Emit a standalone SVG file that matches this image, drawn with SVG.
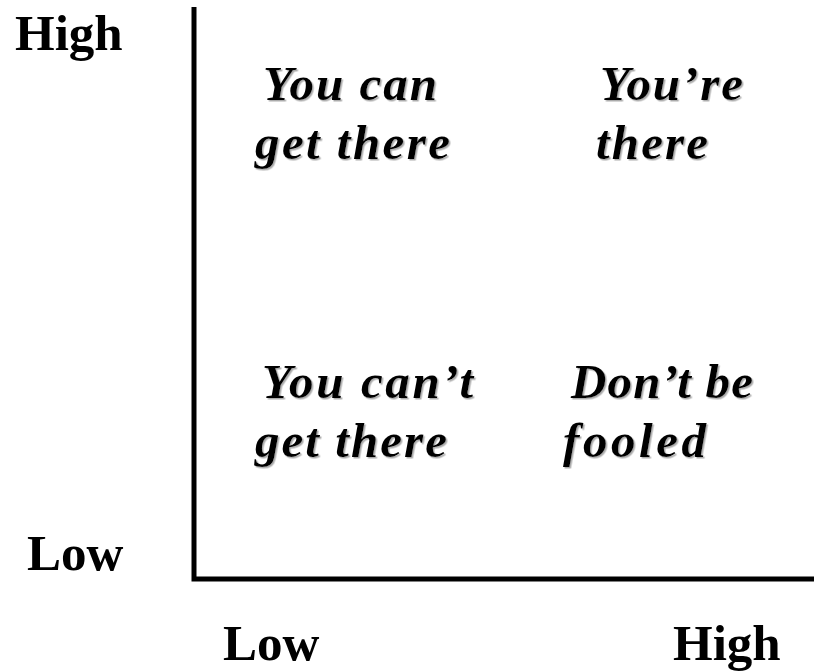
<svg xmlns="http://www.w3.org/2000/svg" width="814" height="671" viewBox="0 0 814 671">
<style>
.ax{font-family:"Liberation Serif","Times New Roman",serif;font-weight:bold;font-size:51px;fill:#000}
.q{font-family:"Liberation Serif","Times New Roman",serif;font-weight:bold;font-style:italic;font-size:49px;fill:#000;filter:url(#sh)}
.axis{stroke:#000;stroke-width:5;fill:none}
</style>
<defs>
<filter id="sh" x="-10%" y="-20%" width="120%" height="140%">
<feDropShadow dx="1.5" dy="1.5" stdDeviation="0.6" flood-color="#888" flood-opacity="0.7"/>
</filter>
</defs>
<rect width="814" height="671" fill="#fff"/>
<g id="connectors">
<polyline class="axis" points="194,7 194,579 814,579"/>
</g>
<g id="y-high"><text class="ax" x="15" y="50">High</text></g>
<g id="y-low"><text class="ax" x="27" y="570">Low</text></g>
<g id="x-low"><text class="ax" x="223" y="660">Low</text></g>
<g id="x-high"><text class="ax" x="673" y="660">High</text></g>
<g id="q-top-left">
<text class="q" x="263" y="100" textLength="174" lengthAdjust="spacing">You can</text>
<text class="q" x="255" y="159" textLength="195" lengthAdjust="spacing">get there</text>
</g>
<g id="q-top-right">
<text class="q" x="600" y="100" textLength="143" lengthAdjust="spacing">You’re</text>
<text class="q" x="596" y="159" textLength="112" lengthAdjust="spacing">there</text>
</g>
<g id="q-bottom-left">
<text class="q" x="262" y="398" textLength="211" lengthAdjust="spacing">You can’t</text>
<text class="q" x="255" y="457" textLength="192" lengthAdjust="spacing">get there</text>
</g>
<g id="q-bottom-right">
<text class="q" x="571" y="398" textLength="182" lengthAdjust="spacing">Don’t be</text>
<text class="q" x="563" y="457" textLength="143" lengthAdjust="spacing">fooled</text>
</g>
</svg>
